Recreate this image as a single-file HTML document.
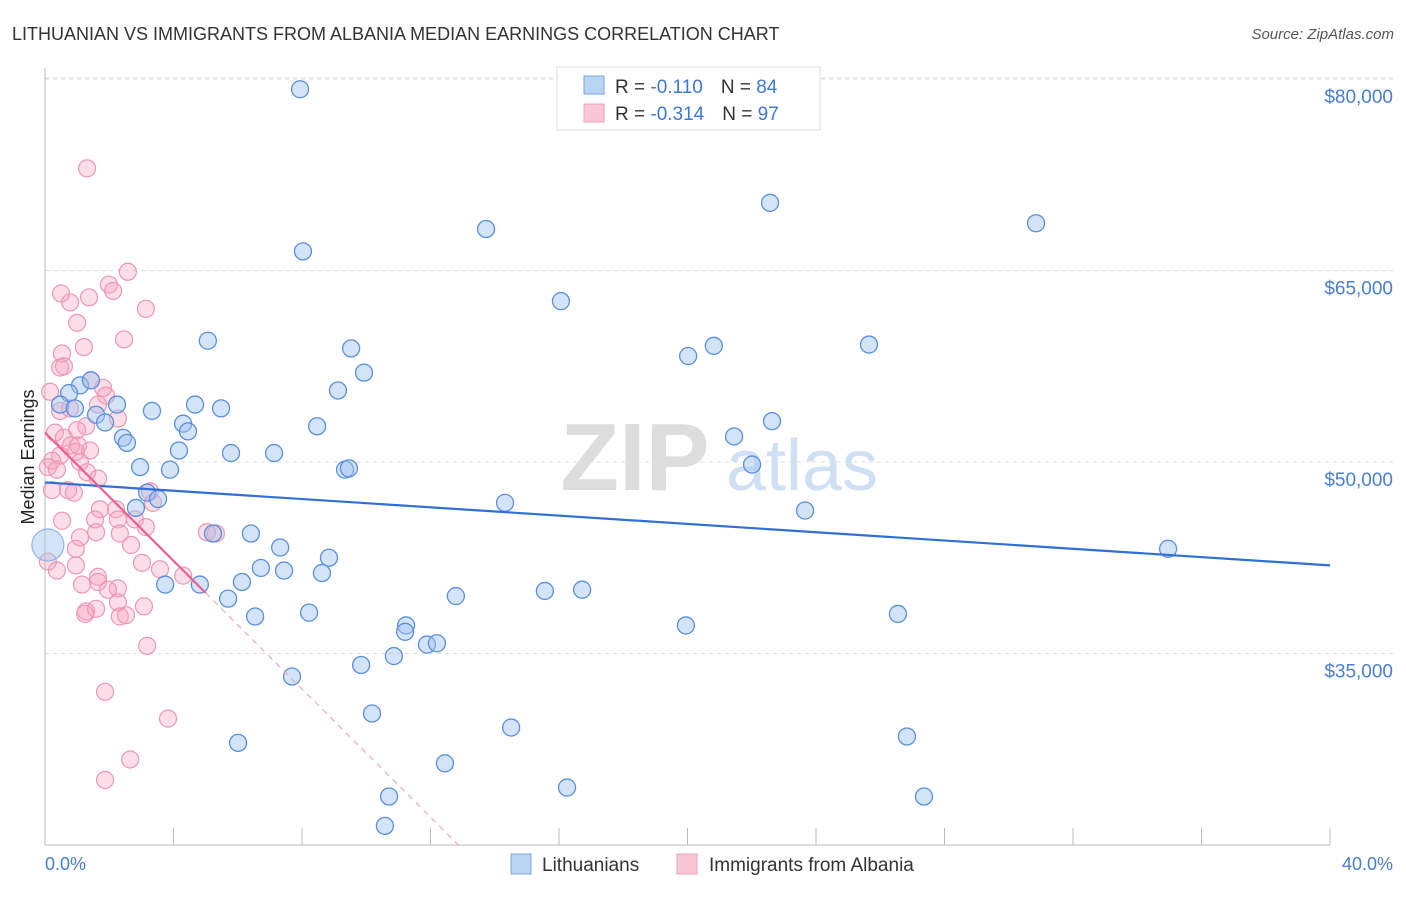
<!DOCTYPE html>
<html><head><meta charset="utf-8"><style>
body{margin:0;background:#fff;font-family:"Liberation Sans",sans-serif;}
svg text{font-family:"Liberation Sans",sans-serif;}
</style></head><body>
<svg id="chart" width="1406" height="892" xmlns="http://www.w3.org/2000/svg">
<text x="12" y="40" font-size="18" fill="#333">LITHUANIAN VS IMMIGRANTS FROM ALBANIA MEDIAN EARNINGS CORRELATION CHART</text>
<text x="1394" y="39" font-size="15" fill="#555" text-anchor="end" font-style="italic">Source: ZipAtlas.com</text>
<g id="grid"></g>
<g>
<text x="635" y="490" font-size="96" fill="#ddd" text-anchor="middle" font-family="Liberation Serif" font-weight="bold">ZIP</text>
<text x="802" y="490" font-size="72" fill="#cfe0f5" text-anchor="middle">atlas</text>
</g>
<g id="axes"></g>
<g id="pinkPts"></g>
<g id="bluePts"></g>
<g id="trends"></g>
<text transform="translate(34,457) rotate(-90)" font-size="18" fill="#222" text-anchor="middle">Median Earnings</text>
<text x="45" y="870" font-size="18" fill="#4a7fd0">0.0%</text>
<text x="1393" y="870" font-size="18" fill="#4a7fd0" text-anchor="end">40.0%</text>
<g>
<rect x="557" y="67" width="263" height="63" fill="#fff" stroke="#ddd"/>
<rect x="584" y="76" width="20" height="18" fill="#b9d3f3" stroke="#7aa7e0"/>
<rect x="584" y="104" width="20" height="18" fill="#f9c6d6" stroke="#eea0bb"/>
<text x="615" y="93" font-size="19" fill="#333">R = <tspan fill="#3d78d4">-0.110</tspan><tspan dx="18">N = </tspan><tspan fill="#3d78d4">84</tspan></text>
<text x="615" y="120" font-size="19" fill="#333">R = <tspan fill="#3d78d4">-0.314</tspan><tspan dx="18">N = </tspan><tspan fill="#3d78d4">97</tspan></text>
</g>
<g>
<rect x="511" y="854" width="20" height="20" fill="#b9d3f3" stroke="#7aa7e0"/>
<text x="542" y="871" font-size="19" fill="#333">Lithuanians</text>
<rect x="677" y="854" width="20" height="20" fill="#f9c6d6" stroke="#eea0bb"/>
<text x="709" y="871" font-size="19" fill="#333">Immigrants from Albania</text>
</g>
</svg>
<script>
const yTicks=[35000,50000,65000,80000];
const yTickLabels=["$35,000","$50,000","$65,000","$80,000"];
const xTicks=[0,4,8,12,16,20,24,28,32,36,40];
const bluePct=[7.94,8.03,13.73,22.57,30.85,16.06,5.07,9.53,9.93,20.02,20.82,25.65,1.09,0.75,1.43,9.12,0.47,0.93,2.24,3.33,4.67,5.48,1.59,1.87,4.30,4.45,8.47,2.43,2.55,4.17,5.79,7.13,2.96,3.89,9.34,9.46,21.45,22.63,22.01,14.32,23.66,3.18,3.52,2.83,5.23,6.41,7.32,34.96,8.84,6.72,7.44,6.13,3.74,4.82,8.62,5.70,12.79,15.56,16.72,6.54,8.22,11.24,11.21,19.95,26.55,11.89,12.20,10.86,9.84,7.69,10.18,6.01,14.51,26.83,12.45,10.71,16.25,27.36,10.58];
const blueVal=[79200,66500,68250,70300,68700,62600,59500,58900,57000,58300,59100,59200,56000,55400,56400,55600,54500,54200,54500,54000,54500,54200,53700,53100,53000,52400,52800,51900,51500,50900,50700,50700,49600,49400,49400,49500,52000,53200,49800,46800,46200,47600,47100,46400,44400,44400,43300,43200,42500,41700,41500,40600,40400,40400,41300,39300,39500,39900,40000,37900,38200,37200,36700,37200,38100,35700,35800,34800,34100,33200,30300,28000,29200,28500,26400,23800,24500,23800,21500];
const bigBlue=[0.09,43500];
const pinkPct=[1.31,2.58,0.50,1.37,1.99,2.12,3.14,0.78,1.00,2.46,1.21,0.53,0.47,0.59,1.43,1.81,0.16,1.90,1.65,0.47,0.78,2.27,1.28,1.00,0.31,0.59,1.03,1.40,0.81,0.96,0.47,0.22,0.09,1.09,0.37,1.31,1.65,0.22,0.72,0.90,3.27,3.36,1.71,1.56,2.21,2.27,2.80,0.53,1.59,3.14,1.09,2.33,0.96,2.68,5.04,5.32,0.09,3.02,0.96,0.37,3.58,4.30,1.65,1.65,1.15,2.27,1.96,1.28,1.59,1.25,2.27,3.08,2.33,2.52,3.18,1.87,3.83,2.65,1.87];
const pinkVal=[73000,64900,63200,62900,63900,63400,62000,62500,60900,59600,59000,58500,57400,57500,56400,55800,55500,55200,54500,54000,54200,53400,52800,52500,52300,51900,51300,50900,51300,50800,50500,50100,49600,50000,49400,49200,48700,47800,47800,47600,47700,46800,46300,45500,46300,45500,45500,45400,44500,44900,44100,44400,43200,43500,44500,44400,42200,42100,41900,41500,41600,41100,41000,40600,40400,40100,40000,38300,38500,38100,39000,38700,37900,38000,35600,32000,29900,26700,25100];
const blueTrend=[48400,41900];   // value at 0% and 40%
const pinkTrend=[52300,-2510];   // intercept, slope per pct
const NS="http://www.w3.org/2000/svg";
const X=p=>45+p*32.125;
const Y=v=>462-(v-50000)*191.5/15000;
function mk(tag,attrs,parent){const e=document.createElementNS(NS,tag);for(const k in attrs)e.setAttribute(k,attrs[k]);parent.appendChild(e);return e;}
const grid=document.getElementById('grid'),axes=document.getElementById('axes');
mk('line',{x1:45,x2:1393,y1:Y(80000)-1,y2:Y(80000)-1,stroke:'#ddd','stroke-dasharray':'4,4'},grid);
yTicks.forEach((t,i)=>{
 const l=mk('line',{x1:45,x2:1393,y1:Y(t),y2:Y(t),stroke:'#ddd','stroke-dasharray':'4,4'},grid);
 
 
 const tx=mk('text',{x:1393,y:Y(t)+24,'font-size':19,fill:'#4a7fd0','text-anchor':'end'},axes);
 tx.textContent=yTickLabels[i];
 
 
});
mk('line',{x1:45,x2:45,y1:68,y2:845,stroke:'#bbb'},axes);
mk('line',{x1:45,x2:1330,y1:845,y2:845,stroke:'#bbb'},axes);
xTicks.forEach(t=>{
 const l=mk('line',{x1:X(t),x2:X(t),y1:828,y2:845,stroke:'#bbb'},axes);
 
 
});
const pg=document.getElementById('pinkPts');
pinkPct.forEach((p,i)=>{
 const c=mk('circle',{cx:X(p),cy:Y(pinkVal[i]),r:8.5,fill:'rgba(245,160,188,0.35)',stroke:'#ec98b4','stroke-width':1.2},pg);
 
 
});
const bg=document.getElementById('bluePts');
const bb=mk('circle',{cx:X(bigBlue[0]),cy:Y(bigBlue[1]),r:16,fill:'rgba(160,195,240,0.45)',stroke:'#8fb4e8','stroke-width':1.2},bg);


bluePct.forEach((p,i)=>{
 const c=mk('circle',{cx:X(p),cy:Y(blueVal[i]),r:8.5,fill:'rgba(160,195,240,0.45)',stroke:'#5b8fdc','stroke-width':1.3},bg);
 
 
});
const tg=document.getElementById('trends');
const bt=mk('line',{x1:X(0),y1:Y(blueTrend[0]),x2:X(40),y2:Y(blueTrend[1]),stroke:'#2f6fd6','stroke-width':2.2},tg);


const pv=p=>pinkTrend[0]+pinkTrend[1]*p;
const pt=mk('line',{x1:X(0),y1:Y(pv(0)),x2:X(5),y2:Y(pv(5)),stroke:'#e8608e','stroke-width':2.2},tg);


const pEnd=(20000-pinkTrend[0])/pinkTrend[1];
const pd=mk('line',{x1:X(5),y1:Y(pv(5)),x2:X(pEnd),y2:Y(pv(pEnd)),stroke:'#eeaac0','stroke-width':1.2,'stroke-dasharray':'6,5'},tg);


</script>
</body></html>
